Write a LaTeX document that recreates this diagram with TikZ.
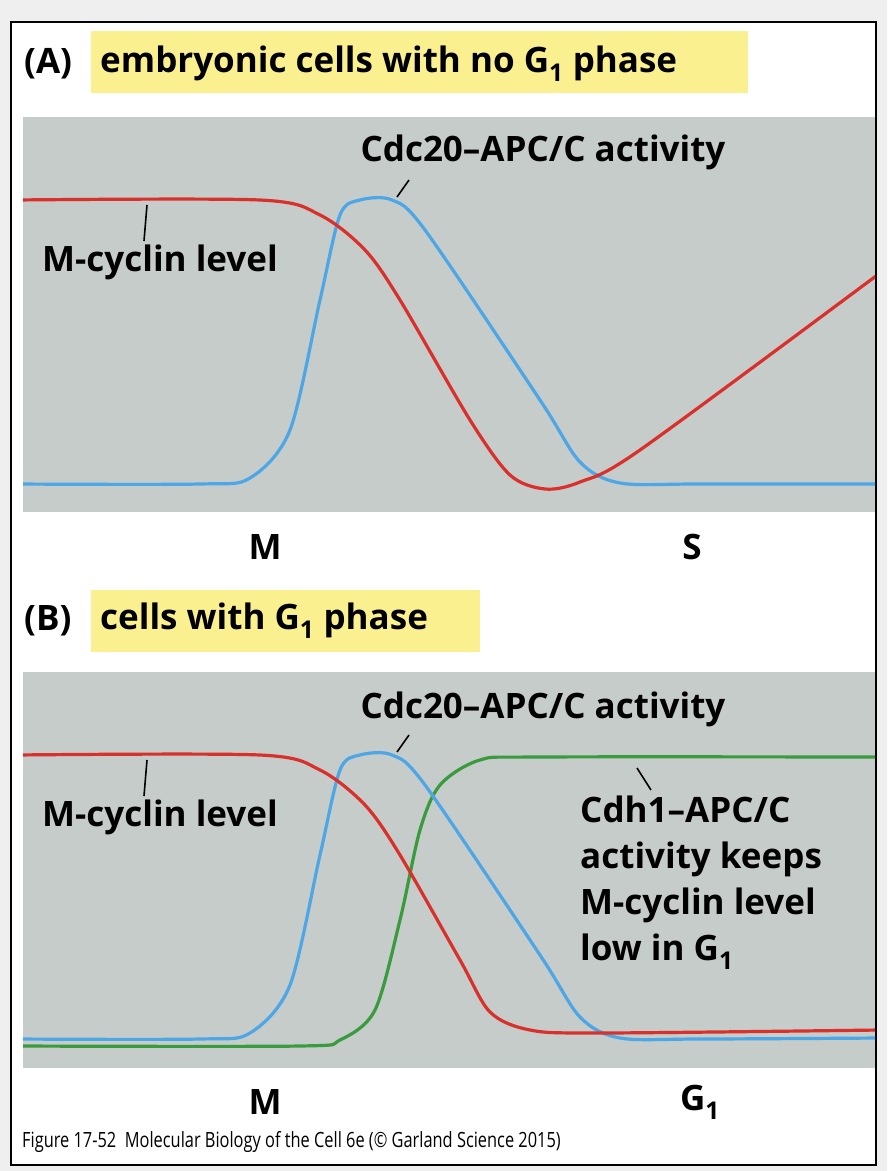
\documentclass[tikz,border=0pt]{standalone}
\usepackage{fontspec}
\setmainfont{Open Sans}
\begin{document}
\begin{tikzpicture}[x=1pt,y=-1pt,
  lbl/.style={font=\fontsize{35}{40}\selectfont\bfseries,inner sep=0},
  hd/.style={font=\fontsize{35}{40}\selectfont\bfseries,inner sep=0},
  crv/.style={line width=3.2pt,line cap=round},
  tick/.style={line width=1.6pt}]
\definecolor{bg}{HTML}{EFEFEF}
\definecolor{panel}{HTML}{C6CCC9}
\definecolor{yel}{HTML}{FBF08F}
\definecolor{cred}{HTML}{D9302C}
\definecolor{cblue}{HTML}{4DA6E6}
\definecolor{cgreen}{HTML}{3A9A3E}
\fill[bg] (0,0) rectangle (887,1171);
\useasboundingbox (0,0) rectangle (887,1171);
\draw[fill=white,line width=1.5pt] (11,22) rectangle (876,1165);
% panel A
\fill[yel] (91,31) rectangle (748,93);
\node[hd,anchor=west] (ha) at (24,64) {(A)};
\node[hd,anchor=west] (ta) at (100,64) {embryonic cells with no G\textsubscript{1} phase};
\fill[panel] (23,117) rectangle (875,512);
\begin{scope}
\clip (23,117) rectangle (875,512);
\draw[crv,cblue] plot[smooth,tension=0.5] coordinates {(15,484) (200,484) (250,478) (290,430) (320,300) (340,215) (360,200) (392,200) (425,230) (540,400) (580,462) (620,483) (700,484) (880,484)};
\draw[crv,cred] plot[smooth,tension=0.5] coordinates {(15,200) (260,200) (320,215) (365,250) (400,300) (470,420) (510,475) (545,489) (580,482) (640,450) (880,273)};
\end{scope}
\node[lbl] (ca) at (543,152) {Cdc20–APC/C activity};
\draw[tick] (397,197) -- (409,180);
\node[lbl,anchor=west] (ma) at (42,262) {M-cyclin level};
\draw[tick] (144,241) -- (147,205);
\node[hd] (xm) at (265,547) {M};
\node[hd] (xs) at (692,547) {S};
% panel B
\fill[yel] (91,590) rectangle (480,652);
\node[hd,anchor=west] (hb) at (24,621) {(B)};
\node[hd,anchor=west] (tb) at (100,621) {cells with G\textsubscript{1} phase};
\fill[panel] (23,672) rectangle (875,1068);
\begin{scope}
\clip (23,672) rectangle (875,1068);
\draw[crv,cgreen] plot[smooth,tension=0.5] coordinates {(15,1046) (300,1046) (340,1040) (375,1010) (400,920) (420,830) (440,785) (480,760) (540,757) (880,757)};
\draw[crv,cblue] plot[smooth,tension=0.5] coordinates {(15,1039) (200,1039) (250,1033) (290,985) (320,855) (340,770) (360,755) (392,755) (425,785) (540,955) (580,1017) (620,1038) (700,1039) (880,1038)};
\draw[crv,cred] plot[smooth,tension=0.5] coordinates {(15,755) (260,755) (320,770) (365,805) (400,855) (460,960) (490,1012) (530,1030) (600,1033) (880,1030)};
\end{scope}
\node[lbl] (cb) at (543,709) {Cdc20–APC/C activity};
\draw[tick] (397,752) -- (409,735);
\node[lbl,anchor=west] (mb) at (42,817) {M-cyclin level};
\draw[tick] (144,796) -- (147,760);
\draw[tick] (637,768) -- (651,790);
\node[lbl,anchor=north west,align=left,font=\fontsize{35}{46}\selectfont\bfseries] (cd) at (580,796) {Cdh1–APC/C\\activity keeps\\M-cyclin level\\low in G\textsubscript{1}};
\node[hd] (xm2) at (265,1102) {M};
\node[hd] (xg) at (700,1102) {G\textsubscript{1}};
\node[anchor=west,inner sep=0,font=\fontsize{21}{24}\selectfont] (cap) at (22,1142) {\scalebox{0.78}[1]{Figure 17-52~~Molecular Biology of the Cell 6e (© Garland Science 2015)}};
\end{tikzpicture}
\end{document}
